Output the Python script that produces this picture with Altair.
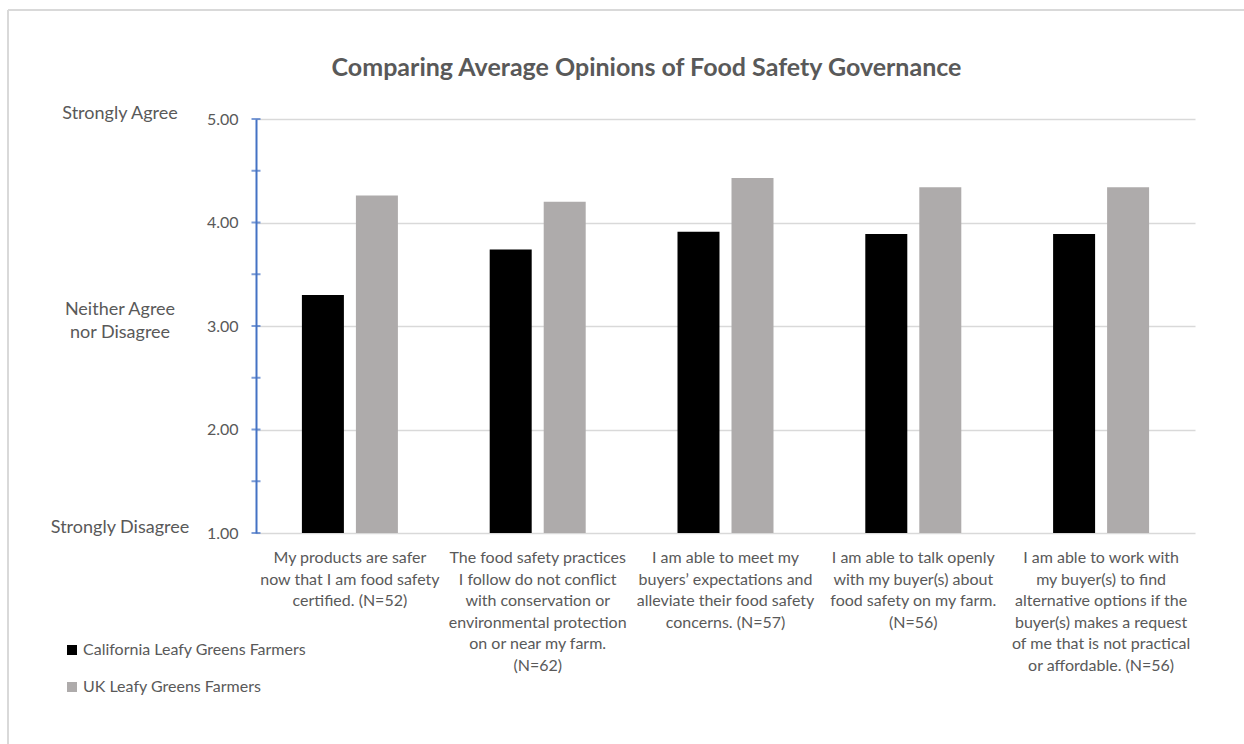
import altair as alt
import pandas as pd

# Survey statements (line breaks as printed under each group)
questions = [
    "My products are safer\nnow that I am food safety\ncertified. (N=52)",
    "The food safety practices\nI follow do not conflict\nwith conservation or\nenvironmental protection\non or near my farm.\n(N=62)",
    "I am able to meet my\nbuyers\u2019 expectations and\nalleviate their food safety\nconcerns. (N=57)",
    "I am able to talk openly\nwith my buyer(s) about\nfood safety on my farm.\n(N=56)",
    "I am able to work with\nmy buyer(s) to find\nalternative options if the\nbuyer(s) makes a request\nof me that is not practical\nor affordable. (N=56)",
]
series = ["California Leafy Greens Farmers", "UK Leafy Greens Farmers"]
california = [3.30, 3.74, 3.91, 3.89, 3.89]
uk = [4.26, 4.20, 4.43, 4.34, 4.34]

# Likert anchors shown beside the value axis
anchor_text = ["Strongly Agree", "Neither Agree\nnor Disagree", "Strongly Disagree"]
anchor_value = [5, 3, 1]

y_labels = [1, 2, 3, 4, 5]
y_ticks = [1, 1.5, 2, 2.5, 3, 3.5, 4, 4.5, 5]

title_text = "Comparing Average Opinions of Food Safety Governance"

FONT = "Lato"
TEXT = "#595959"
AXIS_BLUE = "#4472C4"
GRID = "#D9D9D9"

rows = []
for q, c, u in zip(questions, california, uk):
    rows.append({"question": q, "group": series[0], "score": c})
    rows.append({"question": q, "group": series[1], "score": u})
bars_df = pd.DataFrame(rows)
labels_df = pd.DataFrame({"question": questions})
anchors_df = pd.DataFrame({"text": anchor_text, "value": anchor_value})
ticks_df = pd.DataFrame({"tick": y_ticks})
title_df = pd.DataFrame({"title": [title_text]})

W, H = 939, 414

x_enc = alt.X(
    "question:N",
    sort=questions,
    axis=None,
    scale=alt.Scale(paddingInner=0, paddingOuter=0),
)
y_scale = alt.Scale(domain=[1, 5], zero=False, nice=False)

bars = alt.Chart(bars_df).mark_bar().encode(
    x=x_enc,
    xOffset=alt.XOffset(
        "group:N",
        sort=series,
        scale=alt.Scale(paddingInner=0.2222, paddingOuter=0.85),
    ),
    y=alt.Y(
        "score:Q",
        scale=y_scale,
        axis=alt.Axis(
            values=y_labels,
            format=".2f",
            title=None,
            ticks=False,
            grid=True,
            gridColor=GRID,
            gridWidth=1.5,
            domainColor=AXIS_BLUE,
            domainWidth=2,
            labelFont=FONT,
            labelFontSize=16,
            labelColor=TEXT,
            labelPadding=18,
        ),
    ),
    y2=alt.datum(1),
    color=alt.Color(
        "group:N",
        sort=series,
        scale=alt.Scale(domain=series, range=["#000000", "#AEABAB"]),
        legend=alt.Legend(
            title=None,
            orient="none",
            legendX=-192,
            legendY=523,
            symbolType="square",
            symbolSize=100,
            symbolStrokeWidth=0,
            labelFont=FONT,
            labelFontSize=16,
            labelColor=TEXT,
            labelOffset=3,
            labelLimit=0,
            rowPadding=21,
            padding=0,
        ),
    ),
)

# Tick marks crossing the value axis every half point
ticks = alt.Chart(ticks_df).mark_tick(
    orient="horizontal", color=AXIS_BLUE, size=9, thickness=2
).encode(
    y=alt.Y("tick:Q", scale=y_scale),
    x=alt.value(0),
)

# Multi-line category labels under each pair of bars
cat_labels = alt.Chart(labels_df).mark_text(
    font=FONT,
    fontSize=16,
    color=TEXT,
    align="center",
    baseline="top",
    lineBreak="\n",
    lineHeight=21.6,
).encode(
    x=alt.X("question:N", sort=questions, axis=None),
    y=alt.value(H + 17),
    text="question:N",
)

anchor_style = dict(
    font=FONT,
    fontSize=18,
    color=TEXT,
    align="center",
    baseline="middle",
    lineBreak="\n",
    lineHeight=23,
)
anchors_single = (
    alt.Chart(anchors_df)
    .transform_filter("indexof(datum.text, '\\n') < 0")
    .mark_text(dy=-5, **anchor_style)
    .encode(x=alt.value(-136), y=alt.Y("value:Q", scale=y_scale), text="text:N")
)
anchors_multi = (
    alt.Chart(anchors_df)
    .transform_filter("indexof(datum.text, '\\n') >= 0")
    .mark_text(dy=-16, **anchor_style)
    .encode(x=alt.value(-136), y=alt.Y("value:Q", scale=y_scale), text="text:N")
)

# Chart heading
title = alt.Chart(title_df).mark_text(
    font=FONT,
    fontSize=25,
    fontWeight="bold",
    color=TEXT,
    align="center",
    baseline="middle",
).encode(x=alt.value(390.5), y=alt.value(-51), text="title:N")

# Outer chart frame (top and left edges)
frame_top = alt.Chart(labels_df).mark_rule(color=GRID, strokeWidth=2).encode(
    x=alt.value(-248), x2=alt.value(1100), y=alt.value(-109)
)
frame_left = alt.Chart(labels_df).mark_rule(color=GRID, strokeWidth=2).encode(
    x=alt.value(-248), y=alt.value(-109), y2=alt.value(700)
)

chart = (
    alt.layer(
        frame_top, frame_left, bars, ticks, cat_labels,
        anchors_single, anchors_multi, title,
    )
    .properties(
        width=W,
        height=H,
        autosize=alt.AutoSizeParams(type="none"),
        padding={"left": 256, "top": 119, "right": 49, "bottom": 211},
        background="white",
    )
    .configure_view(stroke=None)
)

chart.save("out.html", embed_options={"renderer": "svg", "actions": False})
